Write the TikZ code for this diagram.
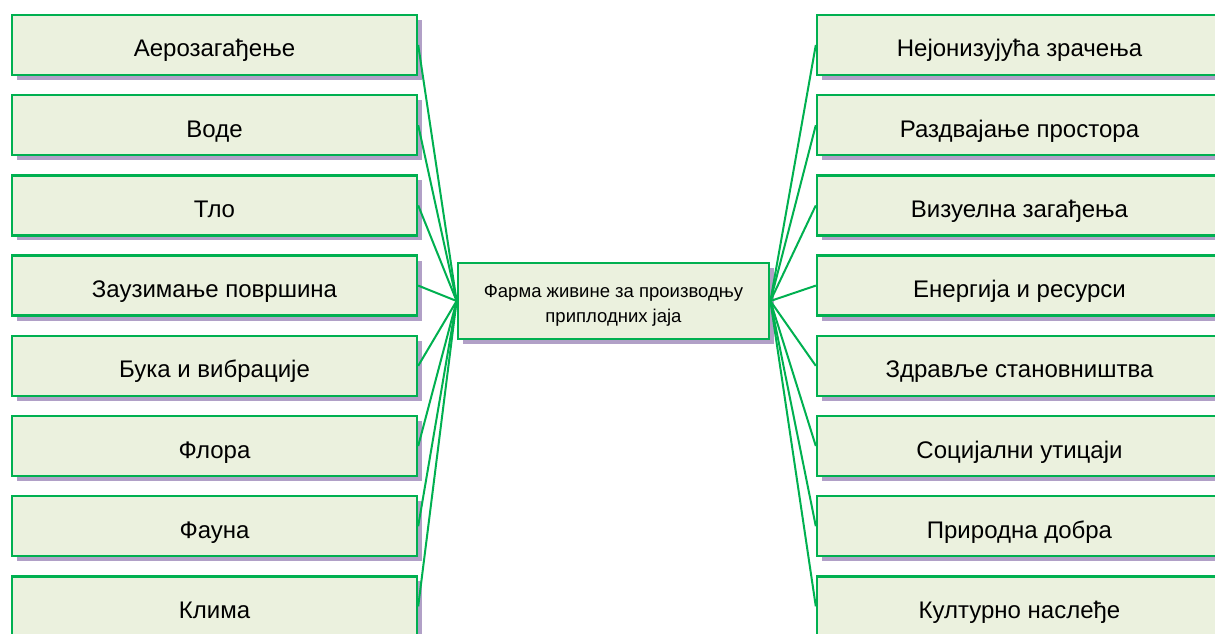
\documentclass[tikz,border=0pt]{standalone}
\usepackage{fontspec}
\setmainfont{Liberation Sans}
\usetikzlibrary{positioning, shadows}
\definecolor{boxgreen}{RGB}{0,176,80}
\definecolor{boxfill}{RGB}{235,241,222}
\definecolor{shadowpurple}{RGB}{177,160,199}

\begin{document}
\begin{tikzpicture}[
    x=1pt, y=-1pt,
    node distance=17.8pt,
    panel/.style={rectangle, draw=boxgreen, fill=boxfill, inner sep=0pt,
                  drop shadow={shadow xshift=5pt, shadow yshift=-5pt,
                               fill=shadowpurple, opacity=1}},
    box/.style={panel, line width=2.4pt,
                minimum width=405pt, minimum height=60pt,
                text height=26pt, text depth=2pt,
                font=\fontsize{24}{28}\selectfont},
    hub/.style={panel, minimum width=311pt, minimum height=76pt,
                align=center, line width=2.8pt, text height=46pt,
                font=\fontsize{18.5}{25}\selectfont},
    link/.style={draw=boxgreen, line width=2pt}
]
\useasboundingbox (0,0) rectangle (1215,634);

% left column
\node[box] (aero) at (214.5,45) {Аерозагађење};
\node[box, below=of aero] (vode) {Воде};
\node[box, below=of vode] (tlo) {Тло};
\node[box, below=of tlo] (zauz) {Заузимање површина};
\node[box, below=of zauz] (buka) {Бука и вибрације};
\node[box, below=of buka] (flora) {Флора};
\node[box, below=of flora] (fauna) {Фауна};
\node[box, below=of fauna] (klima) {Клима};

% right column
\node[box] (zrac) at (1019.5,45) {Нејонизујућа зрачења};
\node[box, below=of zrac] (razd) {Раздвајање простора};
\node[box, below=of razd] (vizu) {Визуелна загађења};
\node[box, below=of vizu] (ener) {Енергија и ресурси};
\node[box, below=of ener] (zdra) {Здравље становништва};
\node[box, below=of zdra] (soci) {Социјални утицаји};
\node[box, below=of soci] (prir) {Природна добра};
\node[box, below=of prir] (kult) {Културно наслеђе};

% centre
\node[hub] (farm) at (613.5,301) {Фарма живине за производњу\\приплодних јаја};

\draw[link] (aero.east) -- (farm.west);
\draw[link] (vode.east) -- (farm.west);
\draw[link] (tlo.east) -- (farm.west);
\draw[link] (zauz.east) -- (farm.west);
\draw[link] (buka.east) -- (farm.west);
\draw[link] (flora.east) -- (farm.west);
\draw[link] (fauna.east) -- (farm.west);
\draw[link] (klima.east) -- (farm.west);
\draw[link] (farm.east) -- (zrac.west);
\draw[link] (farm.east) -- (razd.west);
\draw[link] (farm.east) -- (vizu.west);
\draw[link] (farm.east) -- (ener.west);
\draw[link] (farm.east) -- (zdra.west);
\draw[link] (farm.east) -- (soci.west);
\draw[link] (farm.east) -- (prir.west);
\draw[link] (farm.east) -- (kult.west);
\end{tikzpicture}
\end{document}
